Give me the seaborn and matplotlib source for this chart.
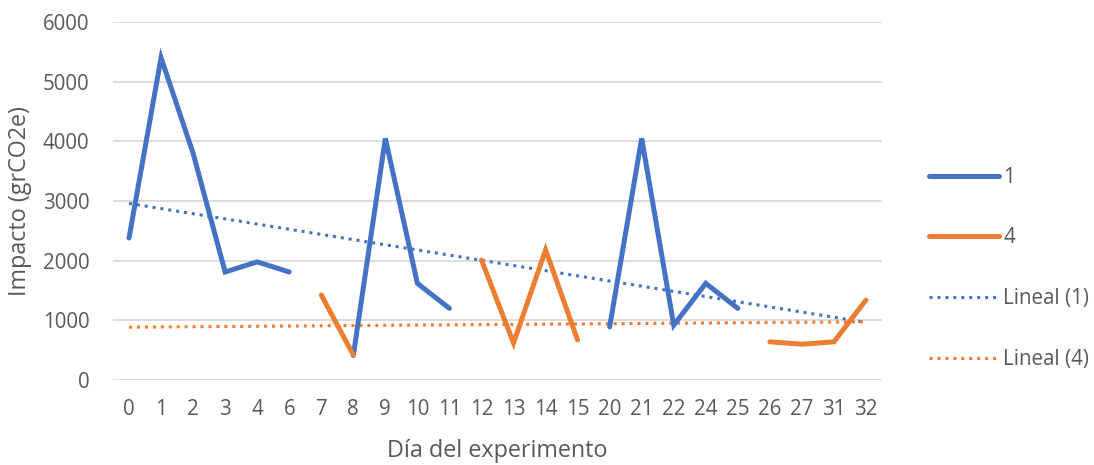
import numpy as np
import pandas as pd
import matplotlib
matplotlib.use("Agg")
import matplotlib.pyplot as plt
from matplotlib.lines import Line2D
import seaborn as sns

# Experiment days (categorical axis, evenly spaced)
days = ["0", "1", "2", "3", "4", "6", "7", "8", "9", "10", "11", "12",
        "13", "14", "15", "20", "21", "22", "24", "25", "26", "27", "31", "32"]

# Impact per day for each group (None = no measurement)
group_1 = [2380, 5400, 3800, 1810, 1980, 1810, None, 410, 4050, 1620, 1200, None,
           None, None, None, 890, 4050, 920, 1620, 1200, None, None, None, None]
group_4 = [None, None, None, None, None, None, 1425, 420, None, None, None, 2010,
           620, 2180, 670, None, None, None, None, None, 640, 600, 640, 1340]

# Linear trend values at the first and last day
trend_1 = [2960, 965]
trend_4 = [885, 975]

series_names = ["1", "4"]
colors = {"1": "#4472C4", "4": "#ED7D31"}
grey = "#595959"
dots = (0, (1, 1.6))
fs_tick = 14.8
fs_title = 16.8

sns.set_theme(style="white")
plt.rcParams["font.family"] = ["Open Sans", "DejaVu Sans"]

# Long table with one row per measured point; contiguous runs get a segment id
rows = []
for name, vals in zip(series_names, [group_1, group_4]):
    seg = 0
    prev = False
    for i, v in enumerate(vals):
        if v is None:
            if prev:
                seg += 1
            prev = False
            continue
        rows.append({"pos": i, "value": v, "series": name, "segment": f"{name}-{seg}"})
        prev = True
df = pd.DataFrame(rows)

fig = plt.figure(figsize=(10.94, 4.65), dpi=100)
ax = fig.add_axes([113 / 1094, 1 - 380 / 465, (882 - 113) / 1094, (380 - 22) / 465])

sns.lineplot(data=df, x="pos", y="value", hue="series", units="segment",
             estimator=None, palette=colors, linewidth=3.6, legend=False,
             solid_capstyle="round", solid_joinstyle="miter", ax=ax, zorder=3)

# Linear trend lines across the whole category range
xs = np.arange(len(days))
for name, ends in zip(series_names, [trend_1, trend_4]):
    trend = pd.DataFrame({"pos": [xs[0], xs[-1]], "value": ends})
    sns.lineplot(data=trend, x="pos", y="value", color=colors[name],
                 linewidth=2.2, linestyle=dots, dash_capstyle="butt",
                 ax=ax, zorder=2)

ax.set_xlim(-0.5, len(days) - 0.5)
ax.set_ylim(0, 6000)
ax.set_xticks(xs)
ax.set_xticklabels(days)
ax.set_yticks(np.arange(0, 6001, 1000))
ax.yaxis.grid(True, color="#d9d9d9", linewidth=1.3)
ax.xaxis.grid(False)
for s in ax.spines.values():
    s.set_visible(False)
ax.tick_params(axis="both", length=0, labelsize=fs_tick, colors=grey)
ax.tick_params(axis="y", pad=17)
ax.tick_params(axis="x", pad=14)

ax.set_xlabel("Día del experimento", fontsize=fs_title, color=grey, labelpad=13)
ax.set_ylabel("Impacto (grCO2e)", fontsize=fs_title, color=grey, labelpad=8)

handles = [
    Line2D([], [], color=colors["1"], linewidth=3.6, solid_capstyle="round"),
    Line2D([], [], color=colors["4"], linewidth=3.6, solid_capstyle="round"),
    Line2D([], [], color=colors["1"], linewidth=2.2, linestyle=dots),
    Line2D([], [], color=colors["4"], linewidth=2.2, linestyle=dots),
]
labels = ["1", "4", "Lineal (1)", "Lineal (4)"]
leg = fig.legend(handles, labels, loc="center left", bbox_to_anchor=(0.832, 0.423),
                 frameon=False, fontsize=fs_tick, handlelength=3.4, handletextpad=0.22,
                 labelspacing=1.93)
for t in leg.get_texts():
    t.set_color(grey)

fig.savefig("out.png", dpi=100)
